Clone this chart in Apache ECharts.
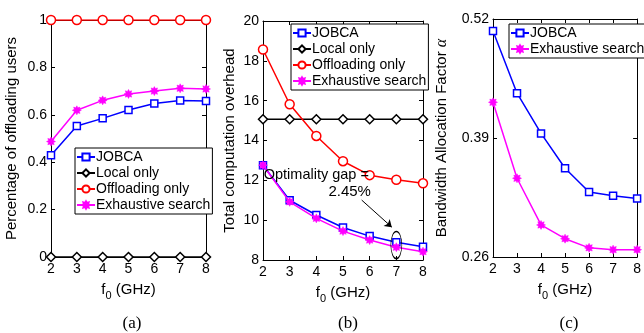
<!DOCTYPE html>
<html>
<head>
<meta charset="utf-8">
<script src="https://cdn.jsdelivr.net/npm/echarts@6/dist/echarts.min.js"></script>
<style>
  html, body { margin: 0; padding: 0; background: #fff; }
  #chart { width: 644px; height: 333px; }
</style>
</head>
<body>
<div id="chart"></div>
<script>
// f0 (GHz)
var f0 = [2, 3, 4, 5, 6, 7, 8];

// (a) percentage of offloading users
var pctJobca      = [0.429, 0.553, 0.585, 0.620, 0.648, 0.660, 0.658];
var pctLocal      = [0, 0, 0, 0, 0, 0, 0];
var pctOffloading = [1, 1, 1, 1, 1, 1, 1];
var pctExhaustive = [0.487, 0.619, 0.661, 0.688, 0.700, 0.712, 0.709];

// (b) total computation overhead
var ovJobca      = [12.76, 11.00, 10.26, 9.63, 9.20, 8.89, 8.67];
var ovLocal      = [15.07, 15.07, 15.07, 15.07, 15.07, 15.07, 15.07];
var ovOffloading = [18.57, 15.82, 14.23, 12.96, 12.26, 12.03, 11.85];
var ovExhaustive = [12.76, 10.92, 10.09, 9.45, 9.00, 8.64, 8.42];

// (c) bandwidth allocation factor
var bwJobca      = [0.507, 0.439, 0.395, 0.357, 0.331, 0.327, 0.324];
var bwExhaustive = [0.429, 0.346, 0.295, 0.280, 0.270, 0.268, 0.268];

var names = ['JOBCA', 'Local only', 'Offloading only', 'Exhaustive search'];
var captions = ['(a)', '(b)', '(c)'];

var FONT = 'Liberation Sans';

// MATLAB-like asterisk marker, drawn as a fat 8-point star
var star = (function () {
    var pts = [];
    for (var k = 0; k < 16; k++) {
        var r = k % 2 === 0 ? 10 : 6;
        var a = Math.PI * k / 8;
        pts.push((10 + r * Math.sin(a)).toFixed(2) + ' ' + (10 - r * Math.cos(a)).toFixed(2));
    }
    return 'path://M' + pts.join(' L') + ' Z';
})();

var styles = {
    'JOBCA': { color: '#0000ff', symbol: 'rect', size: 7, hollow: true },
    'Local only': { color: '#000000', symbol: 'diamond', size: 9, hollow: true },
    'Offloading only': { color: '#ff0000', symbol: 'circle', size: 9, hollow: true },
    'Exhaustive search': { color: '#ff00ff', symbol: star, size: 9, hollow: false }
};

function pairs(vals) {
    return f0.map(function (x, i) { return [x, vals[i]]; });
}

function makeSeries(name, vals, idx, extra) {
    var st = styles[name];
    var s = {
        name: name,
        type: 'line',
        xAxisIndex: idx * 2,
        yAxisIndex: idx * 2,
        data: pairs(vals),
        symbol: st.symbol,
        symbolSize: st.size,
        showAllSymbol: true,
        animation: false,
        lineStyle: { color: st.color, width: 1.5 },
        itemStyle: st.hollow
            ? { color: '#ffffff', borderColor: st.color, borderWidth: 1.5 }
            : { color: st.color, borderColor: st.color, borderWidth: 0.5 },
        emphasis: { disabled: true },
        z: 3
    };
    if (extra) {
        for (var k in extra) s[k] = extra[k];
    }
    return s;
}

var grids = [
    { left: 51, right: 438, top: 20, bottom: 76 },
    { left: 263, right: 221, top: 21, bottom: 73 },
    { left: 493, right: 3, top: 19, bottom: 76 }
];

var yCfg = [
    { min: 0, max: 1, interval: 0.2, name: 'Percentage of offloading users', gap: 32 },
    { min: 8, max: 20, interval: 2, name: 'Total computation overhead', gap: 26 },
    { min: 0.26, max: 0.52, interval: 0.13, name: 'Bandwidth Allocation Factor {i|α}', gap: 43 }
];

var xAxes = [], yAxes = [];
grids.forEach(function (g, i) {
    var base = {
        gridIndex: i, type: 'value', min: 2, max: 8, interval: 1,
        axisLine: { show: true, onZero: false, lineStyle: { color: '#000', width: 1 } },
        axisTick: { show: true, inside: true, length: 4, lineStyle: { color: '#000' } },
        splitLine: { show: false }
    };
    xAxes.push(Object.assign({}, base, {
        position: 'bottom',
        axisLabel: { color: '#000', fontFamily: FONT, fontSize: 14, margin: 5 },
        name: '{f|f}{s|0} (GHz)',
        nameLocation: 'middle',
        nameGap: 21,
        nameTextStyle: {
            color: '#000', fontFamily: FONT, fontSize: 15,
            rich: {
                f: { fontFamily: FONT, fontSize: 15, color: '#000' },
                s: { fontFamily: FONT, fontSize: 11, color: '#000', padding: [12, 0, 0, 0] }
            }
        }
    }));
    xAxes.push(Object.assign({}, base, { position: 'top', axisLabel: { show: false } }));

    var y = yCfg[i];
    var ybase = {
        gridIndex: i, type: 'value', min: y.min, max: y.max, interval: y.interval,
        axisLine: { show: true, onZero: false, lineStyle: { color: '#000', width: 1 } },
        axisTick: { show: true, inside: true, length: 4, lineStyle: { color: '#000' } },
        splitLine: { show: false }
    };
    yAxes.push(Object.assign({}, ybase, {
        position: 'left',
        axisLabel: { color: '#000', fontFamily: FONT, fontSize: 14, margin: 4 },
        name: y.name,
        nameLocation: 'middle',
        nameGap: y.gap,
        nameTextStyle: {
            color: '#000', fontFamily: FONT, fontSize: 15,
            rich: { i: { fontFamily: 'Liberation Serif', fontStyle: 'italic', fontSize: 16, color: '#000' } }
        }
    }));
    yAxes.push(Object.assign({}, ybase, { position: 'right', axisLabel: { show: false } }));
});

var series = [
    makeSeries('JOBCA', pctJobca, 0),
    makeSeries('Local only', pctLocal, 0),
    makeSeries('Offloading only', pctOffloading, 0),
    makeSeries('Exhaustive search', pctExhaustive, 0),

    makeSeries('JOBCA', ovJobca, 1),
    makeSeries('Local only', ovLocal, 1),
    makeSeries('Offloading only', ovOffloading, 1),
    makeSeries('Exhaustive search', ovExhaustive, 1, {
        z: 6,
        markPoint: {
            silent: true,
            animation: false,
            z: 10,
            data: [
                {
                    coord: [7, 8.75], symbol: 'circle', symbolSize: [11, 27],
                    itemStyle: { color: 'rgba(0,0,0,0)', borderColor: '#000', borderWidth: 1 },
                    label: { show: false }
                },
                {
                    coord: [4.0, 12.26], symbol: 'circle', symbolSize: 0,
                    label: { show: true, position: 'inside', formatter: 'Optimality gap =',
                             color: '#000', fontFamily: FONT, fontSize: 14.5 }
                },
                {
                    coord: [5.25, 11.42], symbol: 'circle', symbolSize: 0,
                    label: { show: true, position: 'inside', formatter: '2.45%',
                             color: '#000', fontFamily: FONT, fontSize: 15 }
                }
            ]
        },
        markLine: {
            silent: true,
            animation: false,
            symbol: ['none', 'arrow'],
            symbolSize: 7,
            label: { show: false },
            lineStyle: { color: '#000', width: 1, type: 'solid' },
            data: [[{ coord: [5.7, 11.01] }, { coord: [6.83, 9.65] }]]
        }
    }),

    makeSeries('JOBCA', bwJobca, 2),
    makeSeries('Exhaustive search', bwExhaustive, 2)
];

function legend(left, top, w, h, data) {
    return {
        left: left, top: top, width: w, height: h,
        orient: 'vertical',
        data: data,
        backgroundColor: '#fff',
        borderColor: '#000',
        borderWidth: 1,
        borderRadius: 0,
        padding: [2, 2, 2, 1],
        itemGap: 2,
        itemWidth: 18,
        itemHeight: 9,
        selectedMode: false,
        textStyle: { color: '#000', fontFamily: FONT, fontSize: 14, padding: [0, 0, 0, -4] }
    };
}

var option = {
    animation: false,
    backgroundColor: '#fff',
    title: captions.map(function (c, i) {
        var cx = [127, 343, 564][i];
        return {
            text: c, left: cx, top: 310, textAlign: 'center',
            textStyle: { fontFamily: 'Liberation Serif', fontWeight: 'normal', fontSize: 17, color: '#000' }
        };
    }),
    grid: grids,
    xAxis: xAxes,
    yAxis: yAxes,
    legend: [
        legend(75, 148, 129, 70, names),
        legend(291, 24, 129, 69, names),
        legend(509, 24, 134, 35, ['JOBCA', 'Exhaustive search'])
    ],
    series: series
};

var chart = echarts.init(document.getElementById('chart'), null, { renderer: 'canvas' });
chart.setOption(option);
</script>
</body>
</html>
